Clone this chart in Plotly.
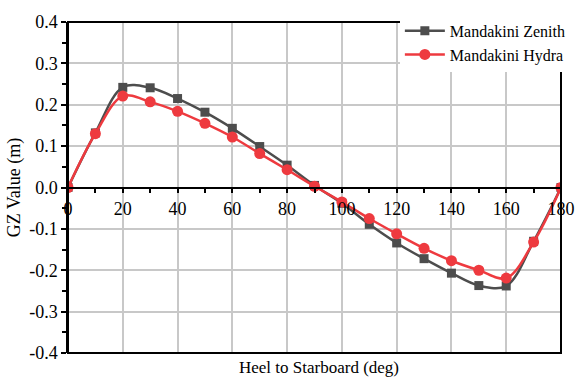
import plotly.graph_objects as go

# Heel angle (deg) and righting arm GZ (m) for the two hull forms
heel = [0, 10, 20, 30, 40, 50, 60, 70, 80, 90, 100, 110, 120, 130, 140, 150, 160, 170, 180]
gz_zenith = [0.0, 0.132, 0.242, 0.241, 0.215, 0.182, 0.143, 0.099, 0.054, 0.005,
             -0.038, -0.089, -0.134, -0.172, -0.207, -0.237, -0.238, -0.130, 0.0]
gz_hydra = [0.0, 0.130, 0.221, 0.207, 0.184, 0.155, 0.122, 0.082, 0.043, 0.003,
            -0.035, -0.075, -0.112, -0.147, -0.177, -0.200, -0.219, -0.132, 0.0]

y_ticks = [-0.4, -0.3, -0.2, -0.1, 0.0, 0.1, 0.2, 0.3, 0.4]
y_ticktext = ["-0.4", "-0.3", "-0.2", "-0.1", "0.0", "0.1", "0.2", "0.3", "0.4"]
x_ticks = [0, 20, 40, 60, 80, 100, 120, 140, 160, 180]

FONT = "Liberation Serif"
GRAY = "#4d4d4d"
RED = "#ee3a3f"

fig = go.Figure()
fig.add_trace(go.Scatter(
    x=heel, y=gz_zenith, name="Mandakini Zenith", mode="lines+markers",
    line=dict(color=GRAY, width=2.5, shape="spline", smoothing=1.0),
    marker=dict(symbol="square", size=9, color=GRAY),
))
fig.add_trace(go.Scatter(
    x=heel, y=gz_hydra, name="Mandakini Hydra", mode="lines+markers",
    line=dict(color=RED, width=2.5, shape="spline", smoothing=1.0),
    marker=dict(symbol="circle", size=11, color=RED),
))

tick_font = dict(family=FONT, size=18, color="black")

fig.update_layout(
    width=587, height=383,
    margin=dict(l=68, r=14, t=13, b=30),
    paper_bgcolor="white", plot_bgcolor="white",
    font=dict(family=FONT, size=16, color="black"),
    showlegend=True,
    legend=dict(x=1.02, xanchor="right", y=1.025, yanchor="top",
                bgcolor="white", borderwidth=0,
                font=dict(family=FONT, size=16, color="black"),
                itemwidth=40, tracegroupgap=0),
    xaxis=dict(
        range=[0, 180], anchor="free", position=0.5,
        tickvals=x_ticks, ticks="outside", ticklen=5, tickwidth=1.5, tickcolor="black",
        minor=dict(dtick=10, ticks="outside", ticklen=5, tickwidth=1.5, tickcolor="black",
                   showgrid=False),
        showline=True, linecolor="black", linewidth=1.5,
        showgrid=True, gridcolor="#c8c8c8", gridwidth=1.5,
        zeroline=False, tickfont=tick_font,
    ),
    yaxis=dict(
        range=[-0.4, 0.4],
        tickvals=y_ticks, ticktext=y_ticktext,
        ticks="outside", ticklen=5, tickwidth=1.5, tickcolor="black",
        minor=dict(dtick=0.05, tick0=-0.4, ticks="outside", ticklen=4, tickwidth=1.5,
                   tickcolor="black", showgrid=False),
        showline=True, linecolor="black", linewidth=1.5,
        showgrid=True, gridcolor="#c8c8c8", gridwidth=1.5,
        zeroline=False, tickfont=tick_font,
        title=dict(text="GZ Value (m)", font=dict(family=FONT, size=18, color="black"),
                   standoff=4),
    ),
    shapes=[dict(type="rect", xref="paper", yref="paper", x0=0, x1=1, y0=0, y1=1,
                 line=dict(color="black", width=2), layer="above")],
    annotations=[dict(text="Heel to Starboard (deg)", xref="paper", yref="paper",
                      x=0.51, y=0, xanchor="center", yanchor="top", yshift=-3,
                      showarrow=False, font=dict(family=FONT, size=17, color="black"))],
)

fig.write_html("out.html")
